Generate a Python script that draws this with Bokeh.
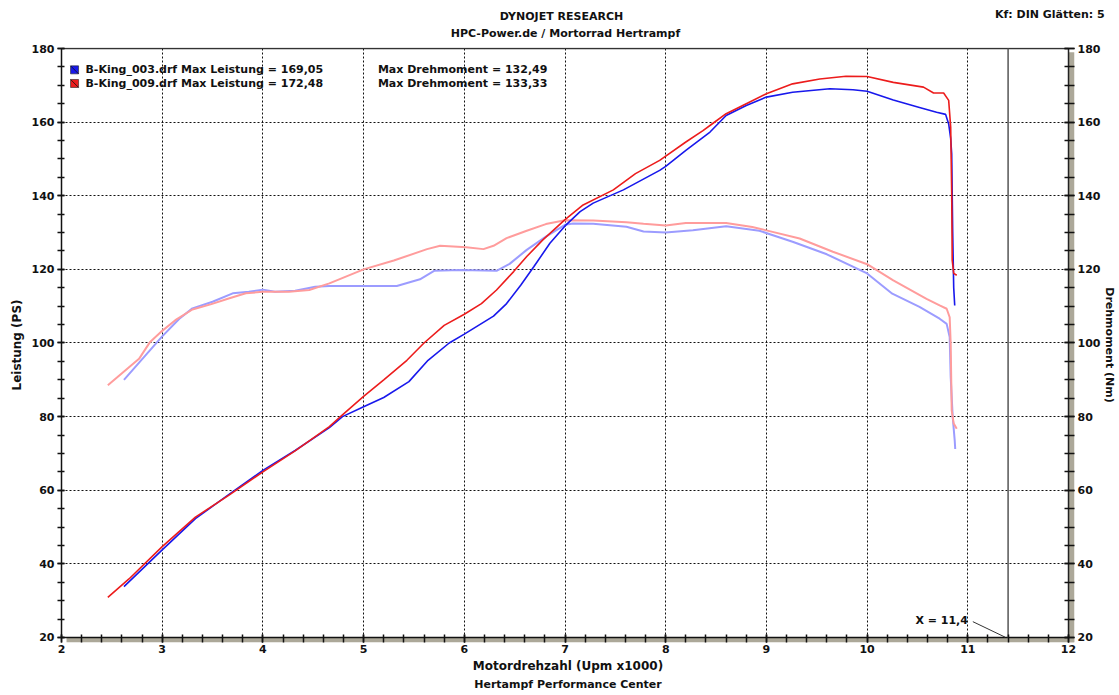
from bokeh.plotting import figure
from bokeh.models import Range1d, LinearAxis, SingleIntervalTicker, Label, Title
from bokeh.layouts import column
from bokeh.embed import file_html
from bokeh.resources import INLINE
from bokeh.core.properties import value

# ---------------- data ----------------
rpm_pw_red = [2.46, 2.67, 3.0, 3.33, 3.66, 4.0, 4.32, 4.66, 4.79, 5.0, 5.2, 5.43, 5.6, 5.8, 6.0,
              6.17, 6.32, 6.49, 6.62, 6.78, 7.0, 7.18, 7.48, 7.7, 7.94, 8.2, 8.37, 8.47, 8.6,
              8.8, 9.0, 9.26, 9.53, 9.79, 10.0, 10.26, 10.56, 10.66, 10.76, 10.81, 10.83,
              10.84, 10.845, 10.86, 10.89]
pw_red = [30.9, 35.9, 44.7, 52.7, 58.6, 65.0, 70.7, 77.3, 80.5, 85.5, 90.0, 95.3, 100.0, 104.8,
          107.8, 110.7, 114.4, 119.4, 123.5, 128.0, 133.5, 137.5, 141.6, 146.0, 149.6, 154.6,
          157.7, 159.7, 162.3, 165.0, 167.7, 170.4, 171.7, 172.48, 172.4, 170.8, 169.5, 167.9,
          167.9, 165.9, 158.6, 140.6, 122.5, 118.9, 118.4]

rpm_pw_blue = [2.62, 3.0, 3.33, 3.66, 4.0, 4.32, 4.66, 4.79, 5.0, 5.2, 5.45, 5.64, 5.85, 6.0,
               6.29, 6.42, 6.56, 6.69, 6.85, 7.0, 7.15, 7.28, 7.58, 7.94, 8.0, 8.2, 8.44, 8.6,
               8.8, 9.0, 9.26, 9.63, 9.86, 10.0, 10.26, 10.52, 10.69, 10.78, 10.81, 10.83,
               10.84, 10.85, 10.86, 10.87]
pw_blue = [33.8, 43.8, 52.3, 58.8, 65.4, 70.8, 77.0, 80.0, 82.7, 85.2, 89.5, 95.3, 100.0, 102.4,
           107.3, 110.7, 115.7, 120.7, 127.1, 131.8, 135.7, 138.0, 141.6, 146.9, 148.0, 152.3,
           157.3, 161.8, 164.5, 166.8, 168.1, 169.05, 168.8, 168.4, 166.0, 164.0, 162.7, 162.1,
           159.5, 155.5, 151.4, 130.0, 115.0, 110.2]

rpm_tq_red = [2.46, 2.77, 2.88, 3.0, 3.13, 3.3, 3.48, 3.66, 3.83, 4.0, 4.26, 4.46, 4.66, 5.0,
              5.3, 5.63, 5.76, 6.02, 6.19, 6.29, 6.42, 6.62, 6.81, 7.0, 7.28, 7.61, 7.78, 8.0,
              8.2, 8.6, 8.86, 9.0, 9.33, 9.66, 10.0, 10.26, 10.59, 10.72, 10.79, 10.82, 10.83,
              10.84, 10.86, 10.89]
tq_red = [88.5, 95.7, 100.3, 103.3, 106.2, 109.1, 110.5, 112.1, 113.5, 113.9, 113.9, 114.4,
          116.2, 120.0, 122.4, 125.5, 126.4, 126.0, 125.5, 126.4, 128.5, 130.5, 132.3, 133.33,
          133.3, 132.8, 132.4, 131.9, 132.6, 132.6, 131.5, 130.6, 128.4, 124.8, 121.4, 117.0,
          112.0, 110.2, 109.3, 107.0, 99.8, 81.7, 78.1, 76.7]

rpm_tq_blue = [2.62, 3.0, 3.17, 3.3, 3.5, 3.7, 3.86, 4.0, 4.12, 4.32, 4.52, 4.66, 5.0, 5.33,
               5.56, 5.7, 5.96, 6.32, 6.45, 6.62, 6.81, 7.0, 7.08, 7.28, 7.61, 7.78, 8.0, 8.27,
               8.6, 8.93, 9.26, 9.6, 10.0, 10.25, 10.52, 10.72, 10.79, 10.82, 10.83, 10.85,
               10.87, 10.875]
tq_blue = [90.0, 101.8, 106.6, 109.4, 111.2, 113.5, 113.9, 114.5, 113.9, 114.2, 115.3, 115.5,
           115.5, 115.5, 117.3, 119.6, 119.8, 119.6, 121.5, 125.3, 128.9, 132.1, 132.49, 132.4,
           131.6, 130.3, 130.0, 130.6, 131.7, 130.5, 127.5, 124.1, 118.9, 113.4, 109.8, 106.6,
           105.2, 101.6, 90.8, 79.9, 73.5, 71.2]

run_files = ["B-King_003.drf", "B-King_009.drf"]
max_power = ["169,05", "172,48"]
max_torque = ["132,49", "133,33"]
run_colors = ["#1818ec", "#ec1c1c"]
run_colors_light = ["#9c9cff", "#ff9c9c"]
x_marker = 11.4
x_marker_label = "X = 11,4"
header_lines = ["DYNOJET RESEARCH", "HPC-Power.de / Mortorrad Hertrampf"]
header_right = "Kf: DIN  Glätten: 5"
footer_text = "Hertampf Performance Center"

FONT = "DejaVu Sans"
TXT = "#111111"
W = 1119
HEAD_H = 44
H = 695 - HEAD_H
BORDER_L = 61
BORDER_R = 43

# ---------------- header strip ----------------
head = figure(width=W, height=HEAD_H, output_backend="svg", toolbar_location=None,
              min_border=0, min_border_left=0, min_border_right=0,
              min_border_top=0, min_border_bottom=0)
try:
    head.frame_align = False          # keep this strip's frame at full width
    hx0, hx1 = 0, W
except AttributeError:
    hx0, hx1 = BORDER_L, W - BORDER_R  # frame aligned with the chart below
head.x_range = Range1d(hx0, hx1)
head.y_range = Range1d(HEAD_H, 0)
head.axis.visible = False
head.grid.visible = False
head.outline_line_color = None
head.text(x=[561, 565], y=[16, 33], text=header_lines, text_font=value(FONT),
          text_font_style="bold", text_font_size="11px", text_color=TXT,
          text_align="center", text_baseline="middle")
head.text(x=[min(1108, hx1 - 2)], y=[14], text=[header_right], text_font=value(FONT),
          text_font_style="bold", text_font_size="11px", text_color=TXT,
          text_align="right", text_baseline="middle")

# ---------------- main chart ----------------
PX_X = 100.9
PX_Y = 3.681
x_end = 12 + 6 / PX_X
y_start = 20 - 5 / PX_Y
y_end = 180 + 1 / PX_Y

p = figure(width=W, height=H, output_backend="svg", toolbar_location=None,
           x_range=Range1d(2, x_end), y_range=Range1d(y_start, y_end),
           min_border_left=BORDER_L, min_border_top=3, min_border_bottom=53,
           min_border_right=BORDER_R,
           background_fill_color="white", border_fill_color="white")
p.outline_line_color = None
p.extra_y_ranges = {"tq": Range1d(y_start, y_end)}

xt = SingleIntervalTicker(interval=1, num_minor_ticks=5)
yt = SingleIntervalTicker(interval=20, num_minor_ticks=4)

xax = p.xaxis[0]
xax.ticker = xt
xax.bounds = (2, 12)
xax.axis_line_color = None
xax.major_tick_in = 8
xax.major_tick_out = 0
xax.minor_tick_in = 8
xax.minor_tick_out = 0
xax.major_tick_line_width = 1.5
xax.minor_tick_line_width = 1.5
xax.major_label_standoff = 2
xax.axis_label = "Motordrehzahl (Upm x1000)"
xax.axis_label_standoff = 3

yax = p.yaxis[0]
yax.ticker = yt
yax.bounds = (20, 180)
yax.axis_line_color = "#111111"
yax.axis_line_width = 1.5
yax.major_tick_in = 3
yax.major_tick_out = 4
yax.minor_tick_in = 3
yax.minor_tick_out = 4
yax.major_tick_line_width = 1.5
yax.minor_tick_line_width = 1.5
yax.major_label_standoff = 3
yax.axis_label = "Leistung (PS)"
yax.axis_label_standoff = 5

rax = LinearAxis(y_range_name="tq", ticker=yt, bounds=(20, 180), axis_label="Drehmoment (Nm)")
rax.axis_line_color = None
rax.major_tick_in = 10
rax.major_tick_out = 0
rax.minor_tick_in = 10
rax.minor_tick_out = 0
rax.major_tick_line_width = 1.5
rax.minor_tick_line_width = 1.5
rax.major_label_standoff = 3
rax.axis_label_standoff = 0
p.add_layout(rax, "right")

for ax in (xax, yax, rax):
    ax.major_tick_line_color = "#111111"
    ax.minor_tick_line_color = "#111111"
    ax.major_label_text_font = FONT
    ax.major_label_text_font_style = "bold"
    ax.major_label_text_font_size = "11px"
    ax.major_label_text_color = TXT
    ax.axis_label_text_font = FONT
    ax.axis_label_text_font_style = "bold"
    ax.axis_label_text_font_size = "12px"
    ax.axis_label_text_color = TXT
rax.axis_label_text_font_size = "11px"

for g in (p.xgrid[0], p.ygrid[0]):
    g.grid_line_color = "#111111"
    g.grid_line_dash = "2 2"
    g.grid_line_width = 1

p.add_layout(Title(text=footer_text, align="center", offset=-5, text_font=FONT,
                   text_font_style="bold", text_font_size="11px", text_color=TXT,
                   standoff=0), "below")

# frame decorations: drop shadow and border lines
p.quad(left=[2.05, 12.0], right=[x_end, x_end], bottom=[y_start, y_start], top=[20, 179.0],
       fill_color="#aca899", line_color=None)
p.line([2, 12], [20, 20], line_color="#111111", line_width=1.5)
p.line([12, 12], [20, 180], line_color="#222222", line_width=1.5)
p.line([2, 12], [180, 180], line_color="#333333", line_width=1.5)

# curves (torque light, power dark)
p.line(rpm_tq_blue, tq_blue, line_color=run_colors_light[0], line_width=2, y_range_name="tq")
p.line(rpm_tq_red, tq_red, line_color=run_colors_light[1], line_width=2, y_range_name="tq")
p.line(rpm_pw_blue, pw_blue, line_color=run_colors[0], line_width=1.6)
p.line(rpm_pw_red, pw_red, line_color=run_colors[1], line_width=1.6)

# cursor line
p.line([x_marker, x_marker], [20, 180], line_color="#555555", line_width=1.5)
p.line([11.05, x_marker - 0.03], [24.3, 20.1], line_color="#333333", line_width=1)
p.add_layout(Label(x=10.48, y=24.5, text=x_marker_label, text_font=FONT, text_font_style="bold",
                   text_font_size="11px", text_color=TXT, text_baseline="middle"))

# legend block
leg_y = [174.2, 170.5]
sq_h = 8 / PX_Y
sq_w = 8 / PX_X
for i in range(2):
    p.quad(left=[2.09], right=[2.09 + sq_w], bottom=[leg_y[i] - sq_h / 2], top=[leg_y[i] + sq_h / 2],
           fill_color=run_colors[i], line_color="#202020", line_width=0.6)
    p.line([2.09, 2.09 + sq_w], [leg_y[i] + sq_h / 2, leg_y[i] - sq_h / 2], line_color="#111111",
           line_width=0.8)
p.text(x=[2.238, 2.238], y=leg_y,
       text=[f"{f} Max Leistung = {v}" for f, v in zip(run_files, max_power)],
       text_font=value(FONT), text_font_style="bold", text_font_size="11px",
       text_color=TXT, text_baseline="middle")
p.text(x=[5.142, 5.142], y=leg_y,
       text=[f"Max Drehmoment = {v}" for v in max_torque],
       text_font=value(FONT), text_font_style="bold", text_font_size="11px",
       text_color=TXT, text_baseline="middle")

layout = column(head, p, spacing=0)
open("out.html", "w").write(file_html(layout, INLINE))
